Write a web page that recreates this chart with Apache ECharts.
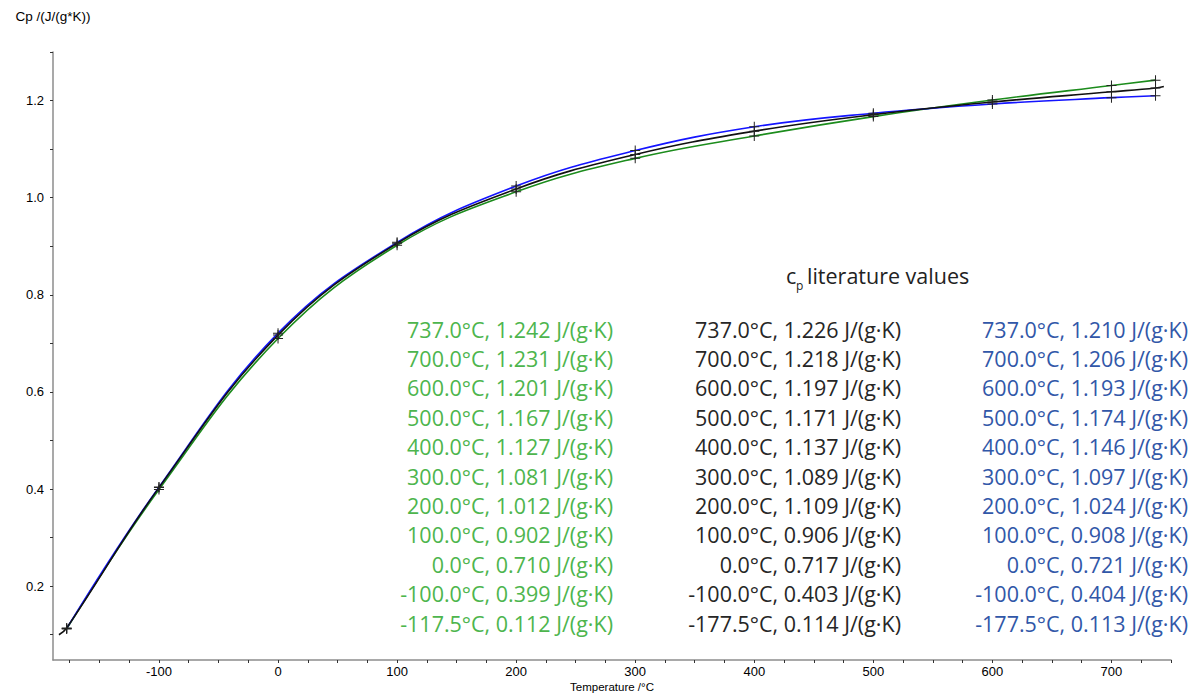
<!DOCTYPE html>
<html>
<head>
<meta charset="utf-8">
<title>Cp literature values</title>
<script src="https://cdn.jsdelivr.net/npm/echarts@6/dist/echarts.min.js"></script>
<style>
  html, body { margin: 0; padding: 0; background: #fff; }
  #chart { width: 1192px; height: 693px; }
</style>
</head>
<body>
<div id="chart"></div>
<script>
const temps = [-177.5, -100, 0, 100, 200, 300, 400, 500, 600, 700, 737]
const greenCp = [0.112, 0.399, 0.710, 0.902, 1.012, 1.081, 1.127, 1.167, 1.201, 1.231, 1.242]
const blackCp = [0.114, 0.403, 0.717, 0.906, 1.018, 1.089, 1.137, 1.171, 1.197, 1.218, 1.226]
const blueCp = [0.113, 0.404, 0.721, 0.908, 1.024, 1.097, 1.146, 1.174, 1.193, 1.206, 1.210]
// black curve runs a little past the first and last marker
const blackStart = [-184, 0.100]
const blackEnd = [744, 1.229]

// tick labels
const xLabels = [-100, 0, 100, 200, 300, 400, 500, 600, 700]
const xTicks = [-175, -150, -125, -100, -75, -50, -25, 0, 25, 50, 75, 100, 125, 150, 175, 200, 225, 250, 275,
  300, 325, 350, 375, 400, 425, 450, 475, 500, 525, 550, 575, 600, 625, 650, 675, 700, 725, 750]
const yLabels = [0.2, 0.4, 0.6, 0.8, 1.0, 1.2]
const yTicks = [0.1, 0.2, 0.3, 0.4, 0.5, 0.6, 0.7, 0.8, 0.9, 1.0, 1.1, 1.2, 1.3]

// literature value table (text exactly as printed)
const greenTemps = ['737.0', '700.0', '600.0', '500.0', '400.0', '300.0', '200.0', '100.0', '0.0', '-100.0', '-117.5']
const greenVals = ['1.242', '1.231', '1.201', '1.167', '1.127', '1.081', '1.012', '0.902', '0.710', '0.399', '0.112']
const blackTemps = ['737.0', '700.0', '600.0', '500.0', '400.0', '300.0', '200.0', '100.0', '0.0', '-100.0', '-177.5']
const blackVals = ['1.226', '1.218', '1.197', '1.171', '1.137', '1.089', '1.109', '0.906', '0.717', '0.403', '0.114']
const blueTemps = ['737.0', '700.0', '600.0', '500.0', '400.0', '300.0', '200.0', '100.0', '0.0', '-100.0', '-177.5']
const blueVals = ['1.210', '1.206', '1.193', '1.174', '1.146', '1.097', '1.024', '0.908', '0.721', '0.404', '0.113']

const plus = 'path://M0,4.5h10v1h-10z M4.5,0h1v10h-1z'
const textFont = '21.5px "Open Sans"'

function pts(ys) {
  return temps.map(function (t, i) { return [t, ys[i]] })
}

function column(ts, vs, right, color) {
  return ts.map(function (t, i) {
    return {
      type: 'text',
      x: right,
      y: 329 + i * 29.4,
      style: {
        text: t + '°C, ' + vs[i] + ' J/(g·K)',
        font: textFont,
        fill: color,
        align: 'right',
        verticalAlign: 'middle'
      }
    }
  })
}

const chart = echarts.init(document.getElementById('chart'), null, { renderer: 'svg' })

const lineSeries = function (name, data, color) {
  return {
    name: name,
    type: 'line',
    data: data,
    smooth: 0.4,
    symbol: plus,
    symbolSize: 10,
    showAllSymbol: true,
    itemStyle: { color: '#222' },
    lineStyle: { color: color, width: 1.6 },
    emphasis: { disabled: true },
    z: 2
  }
}

const blackData = [{ value: blackStart, symbol: 'none' }]
  .concat(pts(blackCp))
  .concat([{ value: blackEnd, symbol: 'none' }])

const axisFont = { fontFamily: 'Liberation Sans', fontSize: 13, color: '#000' }

const option = {
  animation: false,
  backgroundColor: '#fff',
  grid: { left: 53, right: 21, top: 52, bottom: 33, outerBoundsMode: 'none', containLabel: false },
  xAxis: {
    type: 'value',
    min: -189,
    max: 750,
    name: 'Temperature /°C',
    nameLocation: 'middle',
    nameGap: 27,
    nameMoveOverlap: false,
    nameTextStyle: { fontFamily: 'Liberation Sans', fontSize: 11.5, color: '#000', verticalAlign: 'middle' },
    splitLine: { show: false },
    axisLine: { onZero: false, lineStyle: { color: '#8c8c8c', width: 1.5 } },
    axisTick: { customValues: xTicks, length: 3, lineStyle: { color: '#333' } },
    axisLabel: Object.assign({ customValues: xLabels, margin: 5 }, axisFont)
  },
  yAxis: {
    type: 'value',
    min: 0.048,
    max: 1.3,
    name: 'Cp /(J/(g*K))',
    nameLocation: 'end',
    nameGap: 29,
    nameTextStyle: Object.assign({ align: 'center' }, axisFont, { fontSize: 13.5 }),
    splitLine: { show: false },
    axisLine: { onZero: false, lineStyle: { color: '#8c8c8c', width: 1.5 } },
    axisTick: { customValues: yTicks, length: 3, lineStyle: { color: '#333' } },
    axisLabel: Object.assign({
      customValues: yLabels,
      margin: 9,
      formatter: function (v) { return v.toFixed(1) }
    }, axisFont)
  },
  series: [
    lineSeries('green', pts(greenCp), '#1c8c1c'),
    lineSeries('blue', pts(blueCp), '#1414ff'),
    lineSeries('black', blackData, '#111111')
  ],
  graphic: [
    { type: 'text', x: 786, y: 275, style: { text: 'c', font: textFont, fill: '#222', align: 'left', verticalAlign: 'middle' } },
    { type: 'text', x: 796, y: 285, style: { text: 'p', font: '12px "Open Sans"', fill: '#222', align: 'left', verticalAlign: 'middle' } },
    { type: 'text', x: 807, y: 275, style: { text: 'literature values', font: textFont, fill: '#222', align: 'left', verticalAlign: 'middle' } }
  ]
    .concat(column(greenTemps, greenVals, 613, '#4db54d'))
    .concat(column(blackTemps, blackVals, 901, '#262626'))
    .concat(column(blueTemps, blueVals, 1188, '#3157a8'))
}

chart.setOption(option)
</script>
</body>
</html>
